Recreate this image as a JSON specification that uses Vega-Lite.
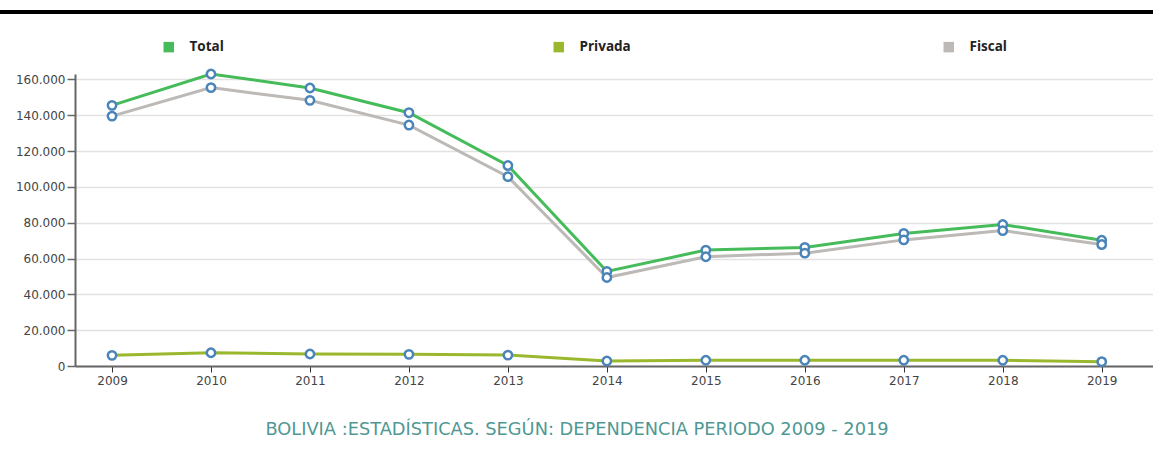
{
  "$schema": "https://vega.github.io/schema/vega-lite/v6.json",
  "width": 1078,
  "height": 292,
  "autosize": {"type": "none"},
  "padding": {"left": 75, "top": 74, "right": 0, "bottom": 106},
  "background": "white",
  "config": {
    "view": {"stroke": null},
    "font": "DejaVu Sans",
    "axisY": {
      "gridColor": "#e2e2e2",
      "gridWidth": 1.5,
      "domainColor": "#666666",
      "domainWidth": 2,
      "tickColor": "#666666",
      "tickSize": 8,
      "tickWidth": 1.5,
      "labelColor": "#444444",
      "labelFontSize": 12,
      "labelPadding": 2,
      "labelOverlap": false
    },
    "axisX": {
      "grid": false,
      "domainColor": "#666666",
      "domainWidth": 2,
      "tickColor": "#333333",
      "tickSize": 6,
      "tickWidth": 1,
      "labelColor": "#444444",
      "labelFontSize": 12,
      "labelPadding": 3,
      "labelFlush": false
    }
  },
  "title": {
    "text": "BOLIVIA :ESTADÍSTICAS. SEGÚN: DEPENDENCIA PERIODO 2009 - 2019",
    "orient": "bottom",
    "anchor": "middle",
    "dx": -37,
    "offset": 35,
    "font": "DejaVu Sans",
    "fontSize": 17.8,
    "fontWeight": "normal",
    "color": "#4f9893"
  },
  "data": {
    "values": [
      {"year": 2009, "serie": "Total", "value": 145500},
      {"year": 2010, "serie": "Total", "value": 163000},
      {"year": 2011, "serie": "Total", "value": 155200},
      {"year": 2012, "serie": "Total", "value": 141400},
      {"year": 2013, "serie": "Total", "value": 111900},
      {"year": 2014, "serie": "Total", "value": 52800},
      {"year": 2015, "serie": "Total", "value": 64700},
      {"year": 2016, "serie": "Total", "value": 66200},
      {"year": 2017, "serie": "Total", "value": 74000},
      {"year": 2018, "serie": "Total", "value": 79000},
      {"year": 2019, "serie": "Total", "value": 70200},
      {"year": 2009, "serie": "Privada", "value": 5960},
      {"year": 2010, "serie": "Privada", "value": 7400},
      {"year": 2011, "serie": "Privada", "value": 6700},
      {"year": 2012, "serie": "Privada", "value": 6500},
      {"year": 2013, "serie": "Privada", "value": 6100},
      {"year": 2014, "serie": "Privada", "value": 2800},
      {"year": 2015, "serie": "Privada", "value": 3200},
      {"year": 2016, "serie": "Privada", "value": 3200},
      {"year": 2017, "serie": "Privada", "value": 3200},
      {"year": 2018, "serie": "Privada", "value": 3200},
      {"year": 2019, "serie": "Privada", "value": 2400},
      {"year": 2009, "serie": "Fiscal", "value": 139500},
      {"year": 2010, "serie": "Fiscal", "value": 155400},
      {"year": 2011, "serie": "Fiscal", "value": 148300},
      {"year": 2012, "serie": "Fiscal", "value": 134500},
      {"year": 2013, "serie": "Fiscal", "value": 105700},
      {"year": 2014, "serie": "Fiscal", "value": 49400},
      {"year": 2015, "serie": "Fiscal", "value": 61000},
      {"year": 2016, "serie": "Fiscal", "value": 63000},
      {"year": 2017, "serie": "Fiscal", "value": 70400},
      {"year": 2018, "serie": "Fiscal", "value": 75600},
      {"year": 2019, "serie": "Fiscal", "value": 67800}
    ]
  },
  "layer": [
    {
      "mark": {"type": "line", "strokeWidth": 3},
      "encoding": {
        "x": {
          "field": "year",
          "type": "quantitative",
          "scale": {"domain": [2008.626, 2019.518], "nice": false, "zero": false},
          "axis": {
            "title": null,
            "values": [2009, 2010, 2011, 2012, 2013, 2014, 2015, 2016, 2017, 2018, 2019],
            "format": "d"
          }
        },
        "y": {
          "field": "value",
          "type": "quantitative",
          "scale": {"domain": [0, 163000], "nice": false},
          "axis": {
            "title": null,
            "values": [0, 20000, 40000, 60000, 80000, 100000, 120000, 140000, 160000],
            "format": ",.0f",
            "labelExpr": "replace(datum.label, ',', '.')",
            "grid": true
          }
        },
        "color": {
          "field": "serie",
          "type": "nominal",
          "sort": ["Total", "Privada", "Fiscal"],
          "scale": {"domain": ["Total", "Privada", "Fiscal"], "range": ["#45bb5a", "#9ab82e", "#bcb9b6"]},
          "legend": {
            "title": null,
            "orient": "none",
            "legendX": 87,
            "legendY": -34,
            "direction": "horizontal",
            "columns": 3,
            "gridAlign": "all",
            "columnPadding": 311,
            "symbolType": "square",
            "symbolSize": 110,
            "symbolStrokeWidth": 0,
            "labelFont": "Open Sans",
            "labelFontWeight": "bold",
            "labelFontSize": 13.5,
            "labelColor": "#222222",
            "labelOffset": 14,
            "encode": {
              "symbols": {
                "update": {
                  "fill": {"scale": "color", "field": "value"},
                  "stroke": {"value": "transparent"}
                }
              }
            }
          }
        },
        "order": {"field": "year"}
      }
    },
    {
      "mark": {"type": "point", "shape": "circle", "filled": true, "fill": "white", "stroke": "#4a84b8", "strokeWidth": 2.5, "size": 70, "opacity": 1},
      "encoding": {
        "x": {
          "field": "year",
          "type": "quantitative",
          "axis": {
            "title": null,
            "values": [2009, 2010, 2011, 2012, 2013, 2014, 2015, 2016, 2017, 2018, 2019],
            "format": "d"
          }
        },
        "y": {
          "field": "value",
          "type": "quantitative",
          "axis": {
            "title": null,
            "values": [0, 20000, 40000, 60000, 80000, 100000, 120000, 140000, 160000],
            "format": ",.0f",
            "labelExpr": "replace(datum.label, ',', '.')",
            "grid": true
          }
        },
        "detail": {"field": "serie"}
      }
    },
    {
      "mark": {"type": "rule", "color": "black", "strokeWidth": 3},
      "encoding": {
        "x": {
          "datum": 2007.868,
          "type": "quantitative",
          "axis": {
            "title": null,
            "values": [2009, 2010, 2011, 2012, 2013, 2014, 2015, 2016, 2017, 2018, 2019],
            "format": "d"
          }
        },
        "x2": {"datum": 2019.6},
        "y": {
          "datum": 197600,
          "type": "quantitative",
          "axis": {
            "title": null,
            "values": [0, 20000, 40000, 60000, 80000, 100000, 120000, 140000, 160000],
            "format": ",.0f",
            "labelExpr": "replace(datum.label, ',', '.')",
            "grid": true
          }
        }
      }
    }
  ]
}
